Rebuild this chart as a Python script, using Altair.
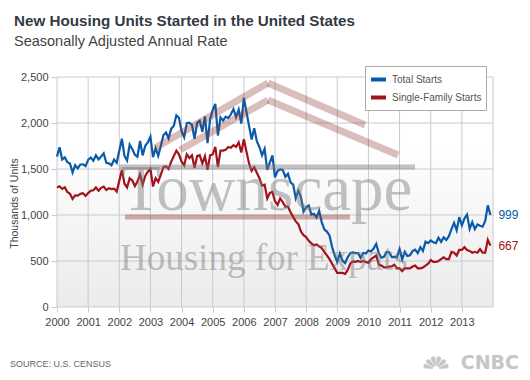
import math
import altair as alt
import pandas as pd

# ---------------- data (thousands of units, SAAR, monthly Jan 2000 - Dec 2013)
years = list(range(2000, 2014))
total_starts = [
    1636, 1737, 1604, 1626, 1575, 1559, 1463, 1541, 1507, 1549, 1551, 1532,  # 2000
    1600, 1625, 1590, 1649, 1605, 1636, 1670, 1567, 1562, 1540, 1602, 1568,  # 2001
    1698, 1829, 1642, 1592, 1764, 1717, 1655, 1633, 1804, 1648, 1753, 1788,  # 2002
    1853, 1629, 1726, 1643, 1751, 1867, 1897, 1833, 1939, 1967, 2083, 2057,  # 2003
    1911, 1846, 1998, 2003, 1981, 1828, 2002, 2024, 1905, 2072, 1782, 2042,  # 2004
    2144, 2207, 1864, 2061, 2025, 2068, 2054, 2095, 2151, 2065, 2147, 1994,  # 2005
    2273, 2119, 1969, 1821, 1942, 1802, 1737, 1650, 1720, 1491, 1570, 1649,  # 2006
    1409, 1480, 1495, 1490, 1415, 1448, 1354, 1330, 1183, 1264, 1197, 1037,  # 2007
    1084, 1103, 1005, 1013, 973, 1046, 923, 844, 820, 777, 652, 560,          # 2008
    490, 582, 505, 478, 540, 585, 594, 586, 585, 534, 588, 581,               # 2009
    614, 604, 636, 687, 583, 536, 546, 599, 594, 543, 545, 539,               # 2010
    630, 517, 600, 554, 561, 608, 623, 585, 650, 610, 711, 694,               # 2011
    723, 704, 695, 753, 708, 757, 728, 770, 847, 915, 833, 976,               # 2012
    888, 962, 1005, 849, 923, 846, 898, 883, 873, 936, 1105, 999,             # 2013
]
single_family = [
    1299, 1312, 1283, 1300, 1249, 1231, 1175, 1214, 1210, 1230, 1236, 1207,  # 2000
    1238, 1264, 1269, 1300, 1264, 1295, 1309, 1271, 1290, 1281, 1287, 1254,  # 2001
    1371, 1490, 1340, 1300, 1400, 1375, 1315, 1365, 1440, 1330, 1425, 1470,  # 2002
    1500, 1310, 1400, 1360, 1440, 1520, 1530, 1500, 1580, 1640, 1700, 1660,  # 2003
    1580, 1540, 1660, 1620, 1650, 1510, 1640, 1650, 1560, 1640, 1490, 1650,  # 2004
    1660, 1740, 1520, 1700, 1700, 1710, 1740, 1730, 1760, 1740, 1790, 1680,  # 2005
    1823, 1690, 1560, 1480, 1520, 1460, 1400, 1320, 1330, 1180, 1240, 1250,  # 2006
    1150, 1110, 1180, 1140, 1090, 1090, 1030, 980, 930, 900, 820, 780,       # 2007
    760, 720, 690, 670, 680, 660, 640, 600, 560, 520, 470, 420,               # 2008
    370, 370, 370, 360, 400, 470, 495, 490, 500, 490, 500, 490,               # 2009
    480, 520, 540, 560, 460, 450, 430, 430, 440, 440, 460, 420,               # 2010
    420, 390, 420, 420, 420, 440, 450, 420, 420, 430, 450, 470,               # 2011
    510, 490, 490, 500, 520, 540, 520, 520, 600, 590, 560, 620,               # 2012
    620, 650, 620, 610, 590, 600, 590, 630, 590, 590, 730, 667,               # 2013
]
series_names = ["Total Starts", "Single-Family Starts"]
y_ticks = [0, 500, 1000, 1500, 2000, 2500]
grid_years = list(range(2000, 2015))

months = [y + m / 12 for y in years for m in range(12)]
df = pd.DataFrame({
    "t": months + months,
    "value": total_starts + single_family,
    "series": [series_names[0]] * len(months) + [series_names[1]] * len(months),
})
last = pd.DataFrame({
    "t": [months[-1], months[-1]],
    "value": [total_starts[-1], single_family[-1]],
    "series": series_names,
})
grid_x = pd.DataFrame({"t": grid_years})
grid_y = pd.DataFrame({"value": y_ticks})

# ---------------- style
W, H = 436, 230
FONT = "Liberation Sans"
BLUE, RED = "#0b5aa8", "#a3121a"
GRID = "#c9c9d2"
one = pd.DataFrame({"k": [0]})

xscale = alt.Scale(domain=[2000, 2014], nice=False, zero=False)
yscale = alt.Scale(domain=[0, 2500], nice=False)
cscale = alt.Scale(domain=series_names, range=[BLUE, RED])

AX = alt.Axis(values=years, format="d", title=None, grid=False, domain=False,
              tickColor=GRID, tickSize=5, labelPadding=4, labelFont=FONT,
              labelFontSize=11, labelColor="#444", labelOverlap=False,
              labelFlush=False)
AY = alt.Axis(values=y_ticks, format=",d", title="Thousands of Units", grid=False,
              domain=False, tickColor=GRID, tickSize=6, labelPadding=3,
              labelFont=FONT, labelFontSize=11, labelColor="#444",
              labelOverlap=False, labelFlush=False,
              titleFont=FONT, titleFontSize=10.5, titleFontWeight="normal",
              titleColor="#444", titleX=-43, titleY=126, titleAngle=270,
              titleAlign="center", titleBaseline="middle")
X = alt.X("t:Q", scale=xscale, axis=AX)
Y = alt.Y("value:Q", scale=yscale, axis=AY)

bg = alt.Chart(one).mark_rect(
    color=alt.Gradient(
        gradient="linear", x1=0, x2=0, y1=0, y2=1,
        stops=[alt.GradientStop(color="#ffffff", offset=0),
               alt.GradientStop(color="#ffffff", offset=0.3),
               alt.GradientStop(color="#ebebeb", offset=1)],
    )
).encode(x=alt.value(0), x2=alt.value(W), y=alt.value(0), y2=alt.value(H))

gx = alt.Chart(grid_x).mark_rule(color=GRID, strokeWidth=1).encode(x=X)
gy = alt.Chart(grid_y).mark_rule(color=GRID, strokeWidth=1).encode(y=Y)

lines = alt.Chart(df).mark_line(strokeWidth=2.2).encode(
    x=X, y=Y,
    color=alt.Color("series:N", scale=cscale, legend=alt.Legend(
        title=None, orient="none", legendX=308, legendY=-11,
        symbolType="stroke", symbolStrokeWidth=4, symbolSize=225,
        labelFont=FONT, labelFontSize=10, labelColor="#555", labelOffset=4,
        fillColor="white", strokeColor="#aaaaaa", padding=4, rowPadding=0)),
    detail="series:N",
)

end_labels = alt.Chart(last).mark_text(
    align="left", baseline="middle", dx=8, font=FONT, fontSize=12
).encode(
    x=X, y=Y,
    text=alt.Text("value:Q", format="d"),
    color=alt.Color("series:N", scale=cscale, legend=None),
)


def txt(text, x, y, size, color, weight="normal", font=FONT, align="left",
        baseline="alphabetic", opacity=1.0):
    return alt.Chart(one).mark_text(
        text=text, font=font, fontSize=size, fontWeight=weight, color=color,
        align=align, baseline=baseline, opacity=opacity,
    ).encode(x=alt.value(x), y=alt.value(y))


def bar(x1, y1, x2, y2, color, width, opacity):
    return alt.Chart(one).mark_rule(
        color=color, strokeWidth=width, opacity=opacity, strokeCap="butt"
    ).encode(x=alt.value(x1), y=alt.value(y1), x2=alt.value(x2), y2=alt.value(y2))


ROOF = "#8b3a30"
WM = "#7a7a7a"
watermark = [
    bar(98, 71, 211, 6, ROOF, 7, 0.33),
    bar(211, 6, 308, 48, ROOF, 7, 0.33),
    bar(123, 73, 211, 23, ROOF, 7, 0.33),
    bar(211, 23, 341, 78, ROOF, 7, 0.33),
    bar(62, 90, 358, 90, WM, 5, 0.45),
    bar(68, 140, 293, 140, ROOF, 5, 0.4),
    txt("Townscape", 64, 133, 65, WM, font="Liberation Serif", opacity=0.45),
    txt("Housing for Expats", 63, 193, 37, WM, font="Liberation Serif", opacity=0.45),
]

# CNBC peacock logo: a fan of six grey feathers
LOGO = "#c6c6c6"
feathers = []
for k in range(6):
    a0 = 270 + k * 30 + 2.5
    a1 = 270 + (k + 1) * 30 - 2.5
    feathers.append(
        alt.Chart(one).mark_arc(
            theta=math.radians(a0), theta2=math.radians(a1),
            radius=13, radius2=3, cornerRadius=3, color=LOGO,
        ).encode(x=alt.value(379), y=alt.value(292))
    )

texts = [
    txt("New Housing Units Started in the United States", -43, -51, 15.2, "#333a44", weight="bold"),
    txt("Seasonally Adjusted Annual Rate", -43, -31, 14.5, "#444"),
    txt("SOURCE: U.S. CENSUS", -47, 287, 9, "#666", baseline="middle"),
    txt("CNBC", 462, 286, 19, LOGO, weight="bold", font="DejaVu Sans",
        align="right", baseline="middle"),
]

chart = alt.layer(bg, gx, gy, lines, end_labels, *watermark, *feathers, *texts).properties(
    width=W, height=H,
    autosize=alt.AutoSizeParams(type="none"),
    padding={"left": 49, "top": 69, "right": 29, "bottom": 65},
).configure(background="white").configure_view(stroke=None)

chart.save("out.html", embed_options={"renderer": "svg", "actions": False})
